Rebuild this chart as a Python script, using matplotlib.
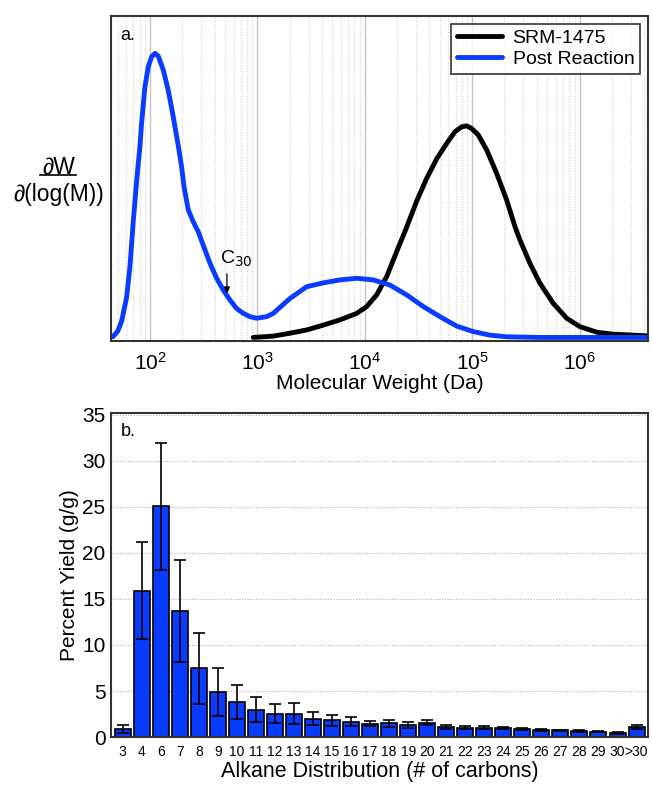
import numpy as np
import matplotlib
matplotlib.use('Agg')
import matplotlib.pyplot as plt
from matplotlib.ticker import LogLocator, NullFormatter
from matplotlib.lines import Line2D

plt.rcParams['font.family'] = ['Liberation Sans', 'DejaVu Sans']

# panel a: molecular weight distributions (log10 M, normalised dW/dlogM)
post_logm = [1.655, 1.700, 1.737, 1.783, 1.814, 1.845, 1.876, 1.891, 1.907, 1.922,
             1.953, 1.984, 2.016, 2.047, 2.077, 2.124, 2.170, 2.217, 2.264, 2.295,
             2.317, 2.357, 2.403, 2.450, 2.496, 2.559, 2.621, 2.682, 2.745, 2.807,
             2.869, 2.931, 2.993, 3.087, 3.148, 3.304, 3.459, 3.614, 3.769, 3.925,
             4.079, 4.235, 4.390, 4.545, 4.700, 4.856, 5.010, 5.166, 5.321, 5.631, 6.625]
post_w = [0.013, 0.030, 0.062, 0.135, 0.230, 0.370, 0.492, 0.545, 0.600, 0.670,
          0.781, 0.844, 0.875, 0.885, 0.877, 0.834, 0.772, 0.690, 0.600, 0.535,
          0.475, 0.403, 0.367, 0.336, 0.295, 0.239, 0.193, 0.157, 0.126, 0.100,
          0.085, 0.075, 0.070, 0.075, 0.085, 0.131, 0.167, 0.179, 0.188, 0.193,
          0.188, 0.172, 0.142, 0.106, 0.075, 0.046, 0.029, 0.018, 0.013, 0.011, 0.011]

srm_logm = [2.962, 3.148, 3.304, 3.459, 3.614, 3.769, 3.925, 4.018, 4.111, 4.204,
            4.297, 4.390, 4.483, 4.576, 4.669, 4.763, 4.840, 4.902, 4.949, 4.995,
            5.057, 5.135, 5.228, 5.321, 5.399, 5.445, 5.538, 5.631, 5.755, 5.880,
            6.004, 6.162, 6.313, 6.625]
srm_w = [0.011, 0.015, 0.024, 0.034, 0.049, 0.065, 0.085, 0.106, 0.142, 0.198,
         0.275, 0.350, 0.430, 0.500, 0.560, 0.608, 0.644, 0.659, 0.662, 0.654,
         0.634, 0.588, 0.516, 0.434, 0.352, 0.311, 0.239, 0.178, 0.116, 0.070,
         0.044, 0.027, 0.021, 0.016]

# panel b: alkane yields
carbons = ['3', '4', '6', '7', '8', '9', '10', '11', '12', '13', '14', '15', '16', '17',
           '18', '19', '20', '21', '22', '23', '24', '25', '26', '27', '28', '29', '30', '>30']
yield_pct = [0.9, 15.9, 25.1, 13.7, 7.45, 4.9, 3.8, 2.95, 2.55, 2.55, 2.0, 1.8, 1.67, 1.45,
             1.49, 1.31, 1.56, 1.13, 1.02, 1.02, 0.98, 0.9, 0.8, 0.73, 0.65, 0.58, 0.44, 1.09]
yield_err = [0.45, 5.25, 6.9, 5.55, 3.85, 2.6, 1.8, 1.35, 1.07, 1.15, 0.68, 0.58, 0.5, 0.3,
             0.36, 0.3, 0.25, 0.22, 0.2, 0.17, 0.12, 0.1, 0.1, 0.08, 0.08, 0.08, 0.08, 0.25]

blue = '#0a3cff'
spine_col = '#333333'

fig = plt.figure(figsize=(6.52, 7.85), dpi=100)
ax1 = fig.add_axes([0.1702, 0.5656, 0.8236, 0.414])
ax2 = fig.add_axes([0.1702, 0.0611, 0.8236, 0.4127])

# ---- panel a
ax1.plot(10**np.array(srm_logm), srm_w, color='black', lw=3.5, label='SRM-1475',
         solid_joinstyle='round', solid_capstyle='round')
ax1.plot(10**np.array(post_logm), post_w, color=blue, lw=3.5, label='Post Reaction',
         solid_joinstyle='round', solid_capstyle='round')
ax1.set_xscale('log')
ax1.set_xlim(10**1.637, 10**6.637)
ax1.set_ylim(0, 1)
ax1.xaxis.set_major_locator(LogLocator(base=10, numticks=10))
ax1.xaxis.set_minor_locator(LogLocator(base=10, subs=np.arange(2, 10), numticks=20))
ax1.xaxis.set_minor_formatter(NullFormatter())
ax1.grid(True, which='major', axis='x', color='#c4c4c4', lw=1.0, ls='-')
ax1.grid(True, which='minor', axis='x', color='#cfcfcf', lw=0.8, ls=(0, (1, 1.5)))
ax1.set_axisbelow(True)
ax1.set_yticks([])
ax1.tick_params(axis='x', which='both', length=0, labelsize=15, pad=8)
ax1.set_xlabel('Molecular Weight (Da)', fontsize=15, labelpad=0)
for s in ax1.spines.values():
    s.set_color(spine_col)
    s.set_linewidth(1.5)
leg = ax1.legend(loc='upper right', fontsize=14, frameon=True, fancybox=False,
                 handlelength=2.3, borderaxespad=0.4, borderpad=0.3,
                 labelspacing=0.15, handletextpad=0.55)
leg.get_frame().set_edgecolor('black')
leg.get_frame().set_linewidth(1.2)
ax1.text(0.018, 0.965, 'a.', transform=ax1.transAxes, fontsize=13, va='top', ha='left')

# C30 marker
ax1.annotate('', xy=(521, 0.138), xytext=(521, 0.215),
             arrowprops=dict(arrowstyle='-|>', color='black', lw=0.9, mutation_scale=9))
ax1.text(449, 0.222, r'C$_{30}$', fontsize=14, ha='left', va='bottom')

# y label as fraction
fig.text(0.0905, 1 - 167 / 785, '\u2202W', fontsize=16.5, ha='center', va='center')
fig.add_artist(Line2D([40 / 652, 76 / 652], [1 - 175 / 785, 1 - 175 / 785],
                      color='black', lw=1.2))
fig.text(0.0905, 1 - 194 / 785, '\u2202(log(M))', fontsize=16.5, ha='center', va='center')

# ---- panel b
x = np.arange(len(carbons))
ax2.bar(x, yield_pct, width=0.84, color=blue, edgecolor='black', lw=1.2, zorder=2)
ax2.errorbar(x, yield_pct, yerr=yield_err, fmt='none', ecolor='black', elinewidth=1.2,
             capsize=4, capthick=1.2, zorder=3)
ax2.set_xlim(-0.62, 27.6)
ax2.set_ylim(0, 35.2)
ax2.set_yticks(np.arange(0, 36, 5))
ax2.set_xticks(x)
ax2.set_xticklabels(carbons)
ax2.grid(True, axis='y', color='#b5b5b5', lw=0.8, ls=(0, (1, 1.5)), zorder=0)
ax2.set_axisbelow(True)
ax2.tick_params(axis='x', length=0, labelsize=10, pad=6)
ax2.tick_params(axis='y', length=0, labelsize=15, pad=4)
ax2.set_ylabel('Percent Yield (g/g)', fontsize=15, labelpad=2)
ax2.set_xlabel('Alkane Distribution (# of carbons)', fontsize=15.5, labelpad=1)
for s in ax2.spines.values():
    s.set_color(spine_col)
    s.set_linewidth(1.5)
ax2.text(0.018, 0.97, 'b.', transform=ax2.transAxes, fontsize=13, va='top', ha='left')

fig.savefig('out.png', dpi=100)
